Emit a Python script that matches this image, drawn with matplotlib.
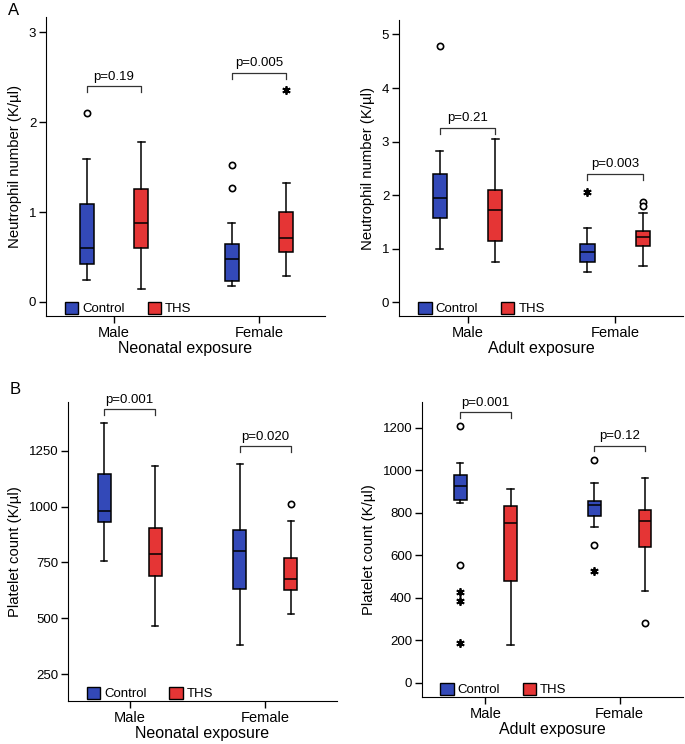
import matplotlib
matplotlib.use('Agg')
import matplotlib.pyplot as plt
from matplotlib.patches import Patch

plt.rcParams['font.family'] = ['Liberation Sans', 'DejaVu Sans']

groups = ['Male', 'Female']
blue = '#3349b8'
red = '#e53535'

# box stats: (whislo, q1, med, q3, whishi) for [Control Male, THS Male, Control Female, THS Female]
neo_neut = [(0.24, 0.42, 0.60, 1.085, 1.59),
            (0.14, 0.60, 0.88, 1.26, 1.78),
            (0.175, 0.23, 0.48, 0.645, 0.88),
            (0.285, 0.56, 0.71, 1.00, 1.32)]
neo_neut_circ = [[2.1], [], [1.52, 1.27], []]
neo_neut_star = [[], [], [], [2.36]]

adu_neut = [(1.0, 1.57, 1.95, 2.39, 2.83),
            (0.75, 1.14, 1.73, 2.10, 3.05),
            (0.57, 0.76, 0.93, 1.08, 1.39),
            (0.68, 1.06, 1.21, 1.34, 1.67)]
adu_neut_circ = [[4.79], [], [], [1.87, 1.80]]
adu_neut_star = [[], [], [2.06], []]

neo_plt = [(757, 931, 978, 1147, 1375),
           (466, 689, 787, 905, 1181),
           (382, 632, 802, 893, 1189),
           (521, 629, 674, 768, 937)]
neo_plt_circ = [[], [], [], [1013]]
neo_plt_star = [[], [], [], []]

adu_plt = [(845, 861, 924, 977, 1032),
           (179, 478, 754, 830, 913),
           (733, 784, 836, 855, 940),
           (433, 638, 762, 814, 963)]
adu_plt_circ = [[1208, 554], [], [1046, 649], [279]]
adu_plt_star = [[428, 387, 189], [], [524], []]

p_neo_neut = ['p=0.19', 'p=0.005']
p_adu_neut = ['p=0.21', 'p=0.003']
p_neo_plt = ['p=0.001', 'p=0.020']
p_adu_plt = ['p=0.001', 'p=0.12']

W, H = 685, 744
fig = plt.figure(figsize=(W / 100, H / 100), dpi=100)


def make_ax(x0, y0, x1, y1):
    return fig.add_axes([x0 / W, 1 - y1 / H, (x1 - x0) / W, (y1 - y0) / H])


def panel(ax, stats, circ, star, pvals, brk, ylim, xlim, yticks, ylabel, xlabel):
    pos = [-0.188, 0.188, 0.812, 1.188]
    cols = [blue, red, blue, red]
    bs = [dict(whislo=s[0], q1=s[1], med=s[2], q3=s[3], whishi=s[4]) for s in stats]
    b = ax.bxp(bs, positions=pos, widths=0.095, patch_artist=True, showfliers=False,
               boxprops=dict(linewidth=1.1, edgecolor='black'),
               medianprops=dict(color='black', linewidth=1.1),
               whiskerprops=dict(color='black', linewidth=1.1),
               capprops=dict(color='black', linewidth=1.1))
    for p, c in zip(b['boxes'], cols):
        p.set_facecolor(c)
    for x, c, s in zip(pos, circ, star):
        if c:
            ax.plot([x] * len(c), c, 'o', mfc='white', mec='black', ms=4.5, mew=1.2)
        if s:
            ax.plot([x] * len(s), s, marker=(6, 2, 0), ls='none', color='black', ms=6, mew=1.3)
    for i, (top, drop) in enumerate(brk):
        x0, x1 = pos[2 * i], pos[2 * i + 1]
        ax.plot([x0, x0, x1, x1], [top - drop, top, top, top - drop], color='#333333', lw=0.9)
        ax.text((x0 + x1) / 2, top + drop * 0.6, pvals[i], ha='center', va='bottom', fontsize=9.5)
    ax.set_xlim(*xlim)
    ax.set_ylim(*ylim)
    ax.set_xticks([0, 1])
    ax.set_xticklabels(groups, fontsize=10.5)
    ax.set_yticks(yticks)
    ax.set_yticklabels([str(t) for t in yticks], fontsize=9.5)
    ax.spines['top'].set_visible(False)
    ax.spines['right'].set_visible(False)
    ax.tick_params(length=5, width=1, pad=2)
    ax.set_ylabel(ylabel, fontsize=10.7, labelpad=5)
    ax.set_xlabel(xlabel, fontsize=11.5, labelpad=1)
    handles = [Patch(facecolor=blue, edgecolor='black', label='Control'),
               Patch(facecolor=red, edgecolor='black', label='THS')]
    ax.legend(handles=handles, loc='lower left', bbox_to_anchor=(0.05, -0.015), ncol=2,
              frameon=False, fontsize=9.5, handlelength=1.0, handleheight=1.0,
              handletextpad=0.3, columnspacing=1.75, borderaxespad=0)


ax1 = make_ax(46, 17, 325, 316)
panel(ax1, neo_neut, neo_neut_circ, neo_neut_star, p_neo_neut,
      [(2.40, 0.06), (2.55, 0.07)], (-0.156, 3.17), (-0.469, 1.455),
      [0, 1, 2, 3], 'Neutrophil number (K/\u00b5l)', 'Neonatal exposure')

ax2 = make_ax(399, 20, 683, 316)
panel(ax2, adu_neut, adu_neut_circ, adu_neut_star, p_adu_neut,
      [(3.26, 0.11), (2.40, 0.12)], (-0.256, 5.27), (-0.465, 1.459),
      [0, 1, 2, 3, 4, 5], 'Neutrophil number (K/\u00b5l)', 'Adult exposure')

ax3 = make_ax(68, 402, 337, 701)
panel(ax3, neo_plt, neo_plt_circ, neo_plt_star, p_neo_plt,
      [(1434, 24), (1269, 24)], (131, 1467), (-0.454, 1.528),
      [250, 500, 750, 1000, 1250], 'Platelet count (K/\u00b5l)', 'Neonatal exposure')

ax4 = make_ax(422, 402, 683, 697)
panel(ax4, adu_plt, adu_plt_circ, adu_plt_star, p_adu_plt,
      [(1272, 27), (1115, 26)], (-67, 1321), (-0.472, 1.471),
      [0, 200, 400, 600, 800, 1000, 1200], 'Platelet count (K/\u00b5l)', 'Adult exposure')

fig.text(8 / W, 1 - 15 / H, 'A', fontsize=12)
fig.text(10 / W, 1 - 394 / H, 'B', fontsize=12)

fig.savefig('out.png', dpi=100)
